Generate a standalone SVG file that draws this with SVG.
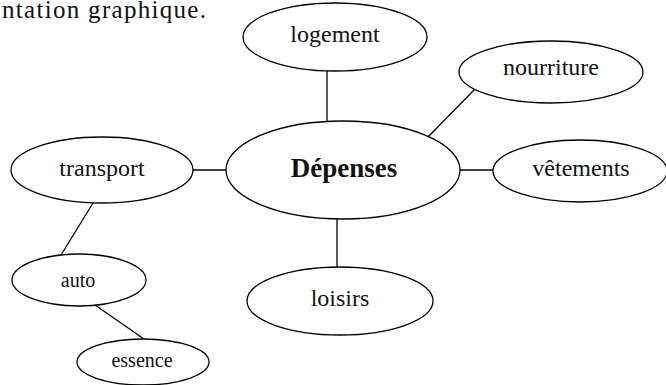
<svg xmlns="http://www.w3.org/2000/svg" width="666" height="385" viewBox="0 0 666 385" font-family="'Liberation Serif', 'Times New Roman', serif">
<style>
.n ellipse{fill:#fff;stroke:#000;stroke-width:1.3}
text{font-family:'Liberation Serif','Times New Roman',serif;fill:#111;text-anchor:middle}
.l{font-size:24px}
.s{font-size:20px}
#connectors line{stroke:#000;stroke-width:1.3}
</style>
<rect width="666" height="385" fill="#fff"/>
<text x="2" y="18" font-size="25" textLength="204" lengthAdjust="spacing" style="text-anchor:start">ntation graphique.</text>
<g id="connectors">
<line x1="327" y1="71" x2="327" y2="122"/>
<line x1="476" y1="88" x2="427" y2="138"/>
<line x1="460" y1="170" x2="493" y2="170"/>
<line x1="193" y1="170" x2="227" y2="170"/>
<line x1="337" y1="219" x2="337" y2="267"/>
<line x1="93" y1="203" x2="61" y2="255"/>
<line x1="95" y1="305" x2="144" y2="339"/>
</g>
<g id="depenses" class="n"><ellipse cx="343" cy="170" rx="117" ry="49"/><text x="344" y="177" style="font-size:27px;font-weight:bold">Dépenses</text></g>
<g id="logement" class="n"><ellipse cx="335" cy="37" rx="92" ry="34"/><text class="l" x="335" y="42">logement</text></g>
<g id="nourriture" class="n"><ellipse cx="551" cy="72" rx="92" ry="31"/><text class="l" x="551" y="75">nourriture</text></g>
<g id="vetements" class="n"><ellipse cx="580" cy="171" rx="87" ry="31"/><text class="l" x="581" y="176">vêtements</text></g>
<g id="transport" class="n"><ellipse cx="102" cy="170" rx="91" ry="33"/><text class="l" x="102" y="176">transport</text></g>
<g id="loisirs" class="n"><ellipse cx="340" cy="301" rx="93" ry="34"/><text class="l" x="340" y="306">loisirs</text></g>
<g id="auto" class="n"><ellipse cx="79" cy="280" rx="67" ry="26"/><text class="s" x="78" y="287">auto</text></g>
<g id="essence" class="n"><ellipse cx="143" cy="362" rx="66" ry="23"/><text class="s" x="142" y="367">essence</text></g>
</svg>
